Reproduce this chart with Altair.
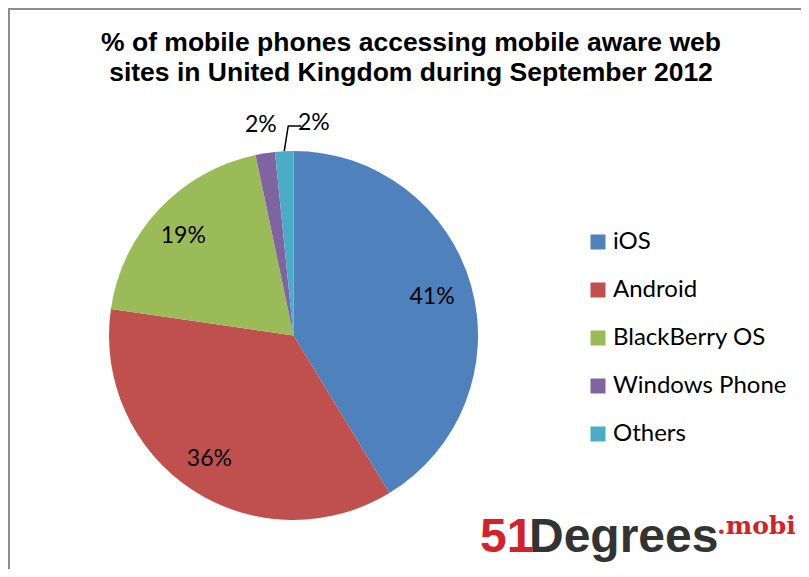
import math
import altair as alt
import pandas as pd

# ---- data ----
categories = ["iOS", "Android", "BlackBerry OS", "Windows Phone", "Others"]
shares = [41.3, 36.0, 19.4, 1.7, 1.6]
labels = ["41%", "36%", "19%", "2%", "2%"]
colors = ["#4F81BD", "#C0504D", "#9BBB59", "#8064A2", "#4BACC6"]
title_lines = ["% of mobile phones accessing mobile aware web",
               "sites in United Kingdom during September 2012"]

# ---- layout constants ----
W, H = 793, 561
CX, CY, R = 285.5, 327.5, 184.5

cum = []
s = 0
for v in shares:
    cum.append(s + v / 2)
    s += v
df = pd.DataFrame({"os": categories, "share": shares, "label": labels,
                   "order": list(range(len(categories))), "mid": cum})

theta_scale = alt.Scale(domain=[0, 100], range=[0, 2 * math.pi])

color = alt.Color(
    "os:N",
    scale=alt.Scale(domain=categories, range=colors),
    sort=categories,
    legend=alt.Legend(title=None, orient="none", legendX=578, legendY=222,
                      symbolType="square", symbolSize=225, symbolStrokeWidth=0,
                      symbolOpacity=1, labelFont="Lato", labelFontSize=24,
                      labelColor="black", rowPadding=24, labelOffset=3,
                      padding=0, labelLimit=300),
)

pie = alt.Chart(df).mark_arc(radius=R).encode(
    theta=alt.Theta("share:Q", stack=True, scale=theta_scale),
    color=color,
    order=alt.Order("order:Q"),
    x=alt.value(CX), y=alt.value(CY),
)

big = alt.Chart(df).transform_filter("datum.share >= 5").mark_text(
    radius=147, font="Lato", fontSize=23, color="black",
    align="center", baseline="middle").encode(
    theta=alt.Theta("mid:Q", scale=theta_scale, stack=None),
    text="label:N", x=alt.value(CX - 3), y=alt.value(CY + 1))

wp = alt.Chart(df).transform_filter("datum.os == 'Windows Phone'").mark_text(
    radius=213, font="Lato", fontSize=23, color="black",
    align="center", baseline="middle").encode(
    theta=alt.Theta("mid:Q", scale=theta_scale, stack=None),
    text="label:N", x=alt.value(CX), y=alt.value(CY))

oth = alt.Chart(df).transform_filter("datum.os == 'Others'").mark_text(
    radius=213, dx=31, font="Lato", fontSize=23, color="black",
    align="center", baseline="middle").encode(
    theta=alt.Theta("mid:Q", scale=theta_scale, stack=None),
    text="label:N", x=alt.value(CX), y=alt.value(CY))

# leader line for "Others" label, derived from its slice angle
th = cum[4] / 100 * 2 * math.pi
ax_, ay_ = CX + R * math.sin(th), CY - R * math.cos(th)
bx_, by_ = ax_ + 4, CY - 209.5
leader_df = pd.DataFrame({"px": [ax_, bx_, bx_ + 13], "py": [ay_, by_, by_], "step": [0, 1, 2]})
leader = alt.Chart(leader_df).mark_line(color="black", strokeWidth=1.5).encode(
    x=alt.X("px:Q", scale=alt.Scale(domain=[0, W], nice=False, zero=False), axis=None),
    y=alt.Y("py:Q", scale=alt.Scale(domain=[0, H], nice=False, zero=False, reverse=True), axis=None),
    order="step:Q")

def text_layer(txt, x, y, **kw):
    return alt.Chart(pd.DataFrame({"t": [txt]})).mark_text(**kw).encode(
        text="t:N", x=alt.value(x), y=alt.value(y))

t1 = text_layer(title_lines[0], 403, 43, font="Liberation Sans", fontWeight="bold",
                fontSize=26.5, color="black", align="center", baseline="alphabetic")
t2 = text_layer(title_lines[1], 403, 73, font="Liberation Sans", fontWeight="bold",
                fontSize=26.5, color="black", align="center", baseline="alphabetic")

logo1 = text_layer("51", 472, 544, font="Liberation Sans", fontWeight="bold",
                   fontSize=48, color="#D2232A", align="left", baseline="alphabetic")
logo2 = text_layer("Degrees", 521, 544, font="Liberation Sans", fontWeight="bold",
                   fontSize=48, color="#333333", align="left", baseline="alphabetic")
logo3 = text_layer(".mobi", 709, 526, font="DejaVu Serif", fontWeight="bold",
                   fontSize=25, color="#D2232A", align="left", baseline="alphabetic")

border_left = alt.Chart(pd.DataFrame({"a": [0]})).mark_rule(color="#8c8c8c", strokeWidth=2).encode(
    x=alt.value(1), y=alt.value(0), y2=alt.value(H))
border_top = alt.Chart(pd.DataFrame({"a": [0]})).mark_rule(color="#8c8c8c", strokeWidth=2).encode(
    x=alt.value(0), x2=alt.value(W), y=alt.value(1))

chart = alt.layer(pie, big, wp, oth, leader, t1, t2, logo1, logo2, logo3,
                  border_left, border_top).resolve_scale(theta="shared").properties(
    width=W, height=H, autosize=alt.AutoSizeParams(type="none"), padding=0,
    background="white"
).configure_view(stroke=None)

chart.save("out.html", embed_options={"renderer": "svg", "actions": False})
